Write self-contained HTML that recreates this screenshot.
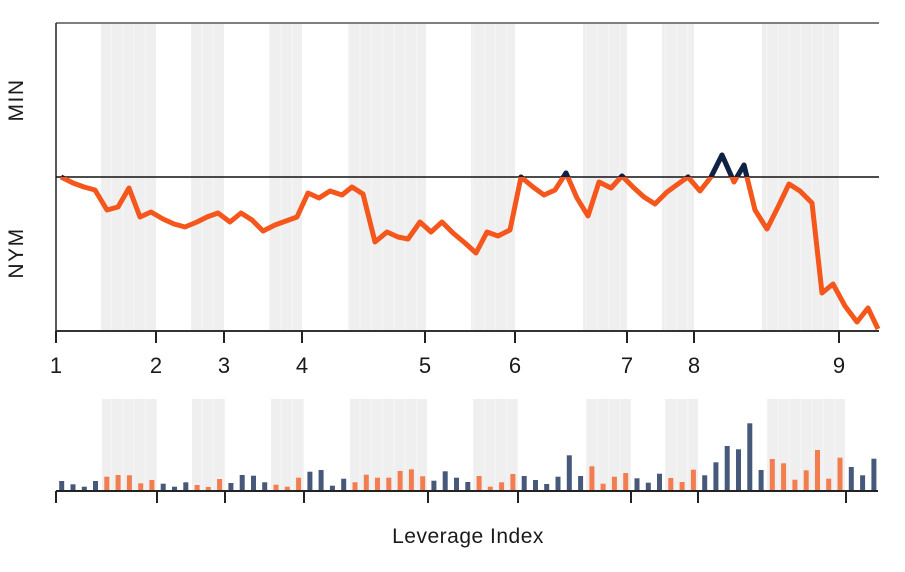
<!DOCTYPE html>
<html>
<head>
<meta charset="utf-8">
<style>
  html,body{margin:0;padding:0;background:#fff;}
  svg{display:block;}
  text{font-family:"Liberation Sans","DejaVu Sans",sans-serif;fill:#1a1a1a;}
</style>
</head>
<body>
<svg width="905" height="572" viewBox="0 0 905 572" xmlns="http://www.w3.org/2000/svg">
  <defs>
    <clipPath id="above">
      <rect x="0" y="0" width="905" height="177"/>
    </clipPath>
    <pattern id="stripes" x="0" y="0" width="11.3" height="10" patternUnits="userSpaceOnUse">
      <rect x="0" y="0" width="11.3" height="10" fill="#efefef"/>
      <rect x="9" y="0" width="1.5" height="10" fill="#f4f4f4"/>
    </pattern>
  </defs>

  <!-- top chart gray bands -->
  <g fill="url(#stripes)">
    <rect x="101" y="24" width="55" height="307"/>
    <rect x="191" y="24" width="33" height="307"/>
    <rect x="269" y="24" width="33" height="307"/>
    <rect x="348" y="24" width="78" height="307"/>
    <rect x="471" y="24" width="44" height="307"/>
    <rect x="583" y="24" width="44" height="307"/>
    <rect x="662" y="24" width="32" height="307"/>
    <rect x="762" y="24" width="77" height="307"/>
  </g>

  <!-- frame -->
  <line x1="56" y1="23" x2="879" y2="23" stroke="#555" stroke-width="1.5"/>
  <line x1="56" y1="23" x2="56" y2="331" stroke="#222" stroke-width="1.5"/>
  <line x1="56" y1="177" x2="879" y2="177" stroke="#111" stroke-width="1.5"/>

  <!-- series -->
  <g fill="none" stroke-width="5" stroke-linejoin="round" stroke-linecap="butt">
    <polyline id="ln" stroke="#f4561c" points="61,177 73,183 84,187 95,190 107,210 118,207 129,188 140,217 151,212 163,219 174,224 185,227 197,222 207,217 218,213 230,222 241,213 252,220 263,231 275,225 286,221 297,217 308,193 319,198 330,191 342,195 352,187 363,194 375,242 387,232 398,237 408,239 420,222 431,232 442,222 453,233 465,243 476,253 487,232 498,236 510,230 521,177 533,187 544,195 555,190 566,173 577,198 588,216 599,182 611,188 622,176 633,187 644,197 655,204 667,192 678,184 688,177 700,191 711,177 722,155 734,182 744,165 755,210 767,229 778,207 789,184 800,191 812,203 822,293 833,284 845,306 857,322 868,308 878,329"/>
    <polyline clip-path="url(#above)" stroke="#0c2347" points="61,177 73,183 84,187 95,190 107,210 118,207 129,188 140,217 151,212 163,219 174,224 185,227 197,222 207,217 218,213 230,222 241,213 252,220 263,231 275,225 286,221 297,217 308,193 319,198 330,191 342,195 352,187 363,194 375,242 387,232 398,237 408,239 420,222 431,232 442,222 453,233 465,243 476,253 487,232 498,236 510,230 521,177 533,187 544,195 555,190 566,173 577,198 588,216 599,182 611,188 622,176 633,187 644,197 655,204 667,192 678,184 688,177 700,191 711,177 722,155 734,182 744,165 755,210 767,229 778,207 789,184 800,191 812,203 822,293 833,284 845,306 857,322 868,308 878,329"/>
  </g>

  <!-- bottom axis of top chart -->
  <line x1="56" y1="331" x2="879" y2="331" stroke="#333" stroke-width="2"/>
  <g stroke="#222" stroke-width="2">
    <line x1="56" y1="331" x2="56" y2="343"/>
    <line x1="156" y1="331" x2="156" y2="343"/>
    <line x1="224" y1="331" x2="224" y2="343"/>
    <line x1="302" y1="331" x2="302" y2="343"/>
    <line x1="425" y1="331" x2="425" y2="343"/>
    <line x1="515" y1="331" x2="515" y2="343"/>
    <line x1="627" y1="331" x2="627" y2="343"/>
    <line x1="694" y1="331" x2="694" y2="343"/>
    <line x1="839" y1="331" x2="839" y2="343"/>
  </g>
  <g font-size="22" text-anchor="middle">
    <text x="56" y="373">1</text>
    <text x="156" y="373">2</text>
    <text x="224" y="373">3</text>
    <text x="302" y="373">4</text>
    <text x="425" y="373">5</text>
    <text x="515" y="373">6</text>
    <text x="627" y="373">7</text>
    <text x="694" y="373">8</text>
    <text x="839" y="373">9</text>
  </g>

  <!-- y labels -->
  <text x="23" y="100" font-size="21" text-anchor="middle" letter-spacing="1.5" transform="rotate(-90 23 100)">MIN</text>
  <text x="23" y="253" font-size="21" text-anchor="middle" letter-spacing="1.5" transform="rotate(-90 23 253)">NYM</text>

  <!-- bottom chart gray bands -->
  <g fill="url(#stripes)">
    <rect x="102" y="399" width="55" height="92"/>
    <rect x="192" y="399" width="33" height="92"/>
    <rect x="271" y="399" width="33" height="92"/>
    <rect x="350" y="399" width="77" height="92"/>
    <rect x="473" y="399" width="45" height="92"/>
    <rect x="586" y="399" width="45" height="92"/>
    <rect x="665" y="399" width="33" height="92"/>
    <rect x="767" y="399" width="78" height="92"/>
  </g>

  <!-- bars navy -->
  <g fill="#46597a">
    <rect x="59.2" y="481" width="5" height="10"/>
    <rect x="70.5" y="484.3" width="5" height="6.7"/>
    <rect x="81.8" y="486.7" width="5" height="4.3"/>
    <rect x="93" y="481" width="5" height="10"/>
    <rect x="160.7" y="483.7" width="5" height="7.3"/>
    <rect x="172" y="486.7" width="5" height="4.3"/>
    <rect x="183.3" y="482.3" width="5" height="8.7"/>
    <rect x="228.4" y="483" width="5" height="8"/>
    <rect x="239.7" y="475" width="5" height="16"/>
    <rect x="251" y="475.7" width="5" height="15.3"/>
    <rect x="262.2" y="482.3" width="5" height="8.7"/>
    <rect x="307.4" y="471.7" width="5" height="19.3"/>
    <rect x="318.6" y="470" width="5" height="21"/>
    <rect x="329.9" y="485.7" width="5" height="5.3"/>
    <rect x="341.2" y="478.7" width="5" height="12.3"/>
    <rect x="431.4" y="480.7" width="5" height="10.3"/>
    <rect x="442.7" y="471.3" width="5" height="19.7"/>
    <rect x="454" y="477.7" width="5" height="13.3"/>
    <rect x="465.3" y="482" width="5" height="9"/>
    <rect x="521.7" y="476" width="5" height="15"/>
    <rect x="533" y="480" width="5" height="11"/>
    <rect x="544.2" y="484" width="5" height="7"/>
    <rect x="555.5" y="476.7" width="5" height="14.3"/>
    <rect x="566.8" y="455.3" width="5" height="35.7"/>
    <rect x="578.1" y="476" width="5" height="15"/>
    <rect x="634.5" y="478.3" width="5" height="12.7"/>
    <rect x="645.8" y="482.7" width="5" height="8.3"/>
    <rect x="657" y="473.7" width="5" height="17.3"/>
    <rect x="702.2" y="475.3" width="5" height="15.7"/>
    <rect x="713.4" y="462.3" width="5" height="28.7"/>
    <rect x="724.7" y="446" width="5" height="45"/>
    <rect x="736" y="449.3" width="5" height="41.7"/>
    <rect x="747.3" y="423.3" width="5" height="67.7"/>
    <rect x="758.6" y="470" width="5" height="21"/>
    <rect x="848.8" y="467" width="5" height="24"/>
    <rect x="860.1" y="475.3" width="5" height="15.7"/>
    <rect x="871.4" y="458.7" width="5" height="32.3"/>
  </g>
  <!-- bars orange -->
  <g fill="#f27d4e">
    <rect x="104.3" y="476.7" width="5" height="14.3"/>
    <rect x="115.6" y="475" width="5" height="16"/>
    <rect x="126.9" y="475.3" width="5" height="15.7"/>
    <rect x="138.2" y="483.3" width="5" height="7.7"/>
    <rect x="149.4" y="480" width="5" height="11"/>
    <rect x="194.6" y="485" width="5" height="6"/>
    <rect x="205.8" y="487" width="5" height="4"/>
    <rect x="217.1" y="479" width="5" height="12"/>
    <rect x="273.5" y="484.7" width="5" height="6.3"/>
    <rect x="284.8" y="486.7" width="5" height="4.3"/>
    <rect x="296.1" y="477.7" width="5" height="13.3"/>
    <rect x="352.5" y="482.3" width="5" height="8.7"/>
    <rect x="363.8" y="474.7" width="5" height="16.3"/>
    <rect x="375" y="477.7" width="5" height="13.3"/>
    <rect x="386.3" y="477.7" width="5" height="13.3"/>
    <rect x="397.6" y="471" width="5" height="20"/>
    <rect x="408.9" y="469.3" width="5" height="21.7"/>
    <rect x="420.2" y="476.3" width="5" height="14.7"/>
    <rect x="476.6" y="476" width="5" height="15"/>
    <rect x="487.8" y="486.7" width="5" height="4.3"/>
    <rect x="499.1" y="482.3" width="5" height="8.7"/>
    <rect x="510.4" y="474" width="5" height="17"/>
    <rect x="589.4" y="466.3" width="5" height="24.7"/>
    <rect x="600.6" y="483.7" width="5" height="7.3"/>
    <rect x="611.9" y="476.7" width="5" height="14.3"/>
    <rect x="623.2" y="473" width="5" height="18"/>
    <rect x="668.3" y="478" width="5" height="13"/>
    <rect x="679.6" y="482" width="5" height="9"/>
    <rect x="690.9" y="469.7" width="5" height="21.3"/>
    <rect x="769.8" y="459" width="5" height="32"/>
    <rect x="781.1" y="463.3" width="5" height="27.7"/>
    <rect x="792.4" y="479.7" width="5" height="11.3"/>
    <rect x="803.7" y="470.3" width="5" height="20.7"/>
    <rect x="815" y="450" width="5" height="41"/>
    <rect x="826.2" y="478.7" width="5" height="12.3"/>
    <rect x="837.5" y="457.7" width="5" height="33.3"/>
  </g>

  <!-- bottom axis -->
  <line x1="56" y1="491" x2="878" y2="491" stroke="#222" stroke-width="2"/>
  <g stroke="#222" stroke-width="2">
    <line x1="56" y1="491" x2="56" y2="503"/>
    <line x1="157" y1="491" x2="157" y2="503"/>
    <line x1="225" y1="491" x2="225" y2="503"/>
    <line x1="304" y1="491" x2="304" y2="503"/>
    <line x1="428" y1="491" x2="428" y2="503"/>
    <line x1="518" y1="491" x2="518" y2="503"/>
    <line x1="631" y1="491" x2="631" y2="503"/>
    <line x1="698" y1="491" x2="698" y2="503"/>
    <line x1="846" y1="491" x2="846" y2="503"/>
  </g>

  <text x="468" y="543" font-size="21" text-anchor="middle" letter-spacing="0.5">Leverage Index</text>
</svg>
</body>
</html>
